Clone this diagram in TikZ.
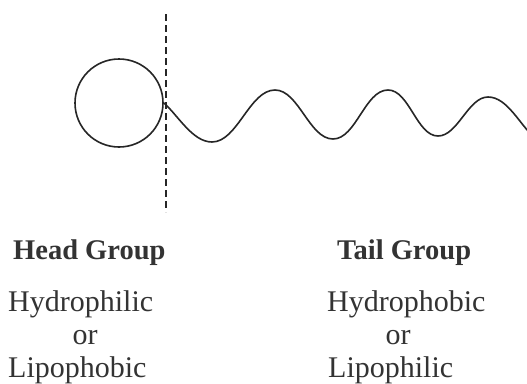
\documentclass[tikz,border=0pt]{standalone}
\usepackage{fontspec}
\setmainfont{Liberation Serif}
\begin{document}
\begin{tikzpicture}[x=1pt,y=-1pt,
  ink/.style={draw=black!85, line width=1.6pt},
  title/.style={inner sep=0pt, font=\fontsize{28.5}{30}\selectfont\bfseries, text=black!80},
  body/.style={inner sep=0pt, font=\fontsize{30}{32}\selectfont, text=black!80}]
\useasboundingbox[fill=white] (0,0) rectangle (527,383);
% head circle
\node[ink, circle, minimum size=88pt, inner sep=0pt] (head) at (119,103) {};
% dashed separator
\coordinate (dtop) at (166,14);
\coordinate (dbot) at (166,212);
\draw[ink, dash pattern=on 7pt off 4pt] (dtop) -- (dbot);
% tail wave
\coordinate (w0) at (164,103);
\coordinate (w1) at (212,142);
\coordinate (w2) at (275,90);
\coordinate (w3) at (333,139);
\coordinate (w4) at (388,90);
\coordinate (w5) at (438,136);
\coordinate (w6) at (488,97);
\coordinate (w7) at (535,138);
\begin{scope}
\clip (0,0) rectangle (527,383);
\draw[ink, looseness=0.8] (w0) to[out=-42,in=180] (w1) to[out=0,in=180] (w2) to[out=0,in=180] (w3)
  to[out=0,in=180] (w4) to[out=0,in=180] (w5) to[out=0,in=180] (w6) to[out=0,in=140] (w7);
\end{scope}
% labels
\node[title, anchor=base west] (hg) at (13,259) {Head Group};
\node[title, anchor=base west] (tg) at (337,259) {Tail Group};
\node[body, anchor=base west] (h1) at (8,311) {Hydrophilic};
\node[body, anchor=base] (h2) at (85,344) {or};
\node[body, anchor=base west] (h3) at (8,377) {Lipophobic};
\node[body, anchor=base west] (t1) at (327,311) {Hydrophobic};
\node[body, anchor=base] (t2) at (398,344) {or};
\node[body, anchor=base west] (t3) at (328,377) {Lipophilic};
\end{tikzpicture}
\end{document}
